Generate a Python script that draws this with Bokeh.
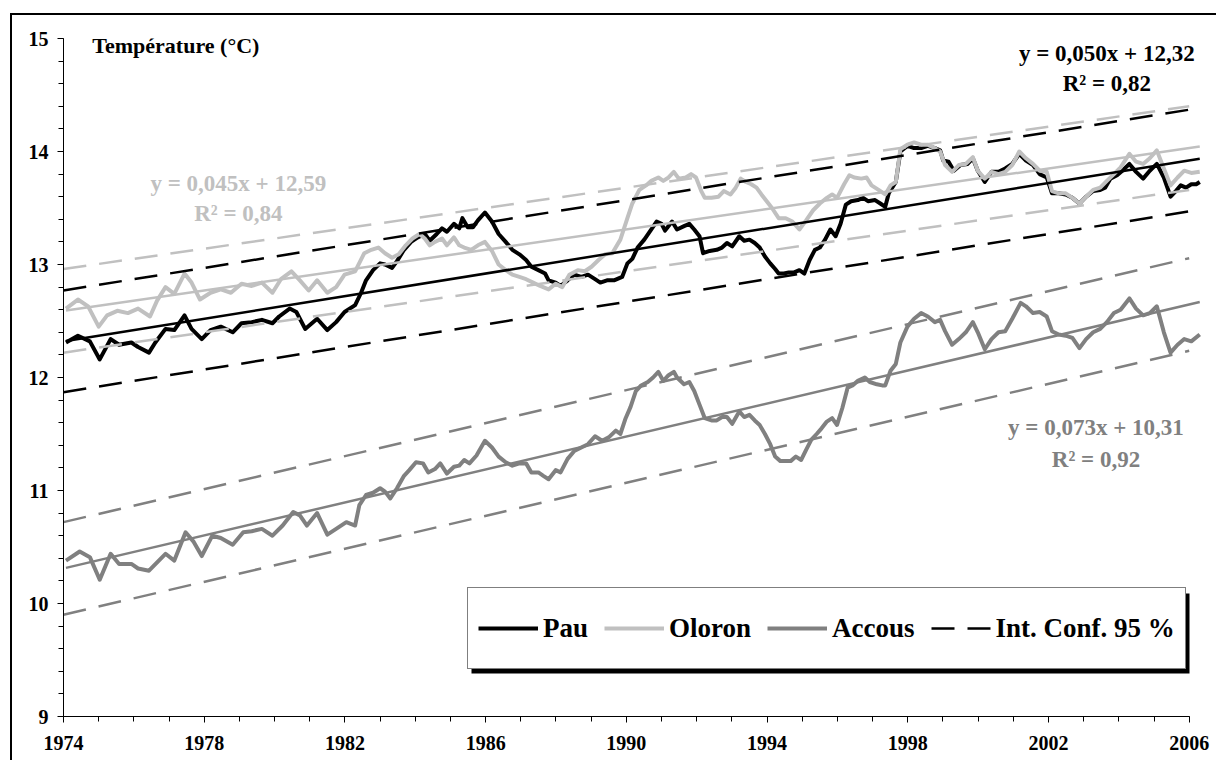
from bokeh.plotting import figure
from bokeh.models import (FixedTicker, Label, Legend, LegendItem, BoxAnnotation, Range1d)
from bokeh.embed import file_html
from bokeh.resources import INLINE

FONT = "Liberation Serif"
BLACK = "#000000"
LIGHT = "#C0C0C0"
GRAY = "#808080"

# ---------------- data ----------------
x_tick_years = [1974, 1978, 1982, 1986, 1990, 1994, 1998, 2002, 2006]
x_minor_years = list(range(1974, 2007))
y_tick_values = [9, 10, 11, 12, 13, 14, 15]

pau_year = [
    1974.07, 1974.41, 1974.75, 1975.03, 1975.34, 1975.58, 1975.93, 1976.12, 1976.43, 1976.61,
    1976.90, 1977.15, 1977.44, 1977.64, 1977.93, 1978.18, 1978.47, 1978.81, 1979.06, 1979.35,
    1979.64, 1979.94, 1980.13, 1980.43, 1980.62, 1980.87, 1981.21, 1981.50, 1981.75, 1981.99, 1982.29,
    1982.46, 1982.60, 1982.80, 1983.00, 1983.14, 1983.34, 1983.48, 1983.68, 1983.88,
    1984.07, 1984.27, 1984.41, 1984.61, 1984.76, 1984.90,
    1985.10, 1985.25, 1985.34, 1985.49, 1985.64, 1985.78, 1985.98,
    1986.18, 1986.37, 1986.57, 1986.76, 1986.96,
    1987.15, 1987.30, 1987.50, 1987.69, 1987.79, 1987.99,
    1988.13, 1988.33, 1988.52, 1988.72, 1988.91,
    1989.11, 1989.26, 1989.45, 1989.65,
    1989.88, 1990.03, 1990.17, 1990.32, 1990.51, 1990.71, 1990.86,
    1991.00, 1991.10, 1991.30, 1991.44, 1991.64, 1991.79, 1991.93,
    1992.08, 1992.18, 1992.37, 1992.57, 1992.72, 1992.86,
    1993.01, 1993.21, 1993.35, 1993.50, 1993.65, 1993.79, 1993.94,
    1994.09, 1994.23, 1994.33, 1994.48, 1994.62, 1994.77, 1994.92,
    1995.06, 1995.21, 1995.36, 1995.50, 1995.65, 1995.80, 1995.95,
    1996.09, 1996.24, 1996.39, 1996.58, 1996.73, 1996.87,
    1997.07, 1997.22, 1997.36, 1997.46, 1997.66,
    1997.79, 1997.99, 1998.18, 1998.38, 1998.57, 1998.77, 1998.92,
    1999.01, 1999.16, 1999.31, 1999.50, 1999.70, 1999.85, 1999.99,
    2000.19, 2000.38, 2000.58, 2000.77, 2000.97,
    2001.17, 2001.36, 2001.56, 2001.75, 2001.95,
    2002.10, 2002.29, 2002.49, 2002.68, 2002.88,
    2003.07, 2003.27, 2003.47, 2003.61, 2003.76, 2003.95,
    2004.10, 2004.30, 2004.49, 2004.69, 2004.88,
    2005.08, 2005.28, 2005.47, 2005.62, 2005.76, 2005.91,
    2006.06, 2006.20, 2006.30,
]
pau_temp = [
    12.31, 12.37, 12.32, 12.16, 12.34, 12.29, 12.31, 12.27, 12.22, 12.31,
    12.43, 12.42, 12.55, 12.43, 12.34, 12.42, 12.45, 12.40, 12.48, 12.49,
    12.51, 12.48, 12.54, 12.61, 12.58, 12.43, 12.52, 12.42, 12.49, 12.58, 12.64,
    12.75, 12.86, 12.95, 13.01, 13.00, 12.97, 13.03, 13.13, 13.20,
    13.24, 13.27, 13.21, 13.27, 13.32, 13.29,
    13.36, 13.32, 13.41, 13.33, 13.33, 13.39, 13.46,
    13.38, 13.27, 13.20, 13.13, 13.09,
    13.04, 12.98, 12.95, 12.92, 12.86, 12.84,
    12.81, 12.86, 12.91, 12.89, 12.91,
    12.87, 12.84, 12.86, 12.86,
    12.89, 13.01, 13.05, 13.15, 13.22, 13.31, 13.38,
    13.36, 13.30, 13.38, 13.31, 13.34, 13.36, 13.31,
    13.25, 13.10, 13.12, 13.13, 13.15, 13.19,
    13.16, 13.25, 13.21, 13.22, 13.19, 13.15, 13.07,
    13.01, 12.96, 12.92, 12.92, 12.93, 12.93, 12.95,
    12.92, 13.04, 13.13, 13.15, 13.22, 13.31, 13.25,
    13.36, 13.53, 13.56, 13.57, 13.59, 13.56,
    13.57, 13.54, 13.51, 13.63, 13.73,
    14.00, 14.05, 14.03, 14.03, 14.05, 14.03, 14.01,
    13.92, 13.91, 13.83, 13.88, 13.89, 13.94, 13.83,
    13.73, 13.82, 13.82, 13.85, 13.89,
    13.98, 13.92, 13.88, 13.80, 13.77,
    13.63, 13.63, 13.62, 13.59, 13.54,
    13.60, 13.65, 13.66, 13.68, 13.76, 13.79,
    13.83, 13.89, 13.82, 13.76, 13.83,
    13.89, 13.77, 13.60, 13.65, 13.70, 13.68,
    13.71, 13.71, 13.73,
]

oloron_year = [
    1974.07, 1974.41, 1974.70, 1975.00, 1975.24, 1975.53, 1975.83, 1976.12, 1976.46, 1976.66,
    1976.90, 1977.15, 1977.44, 1977.64, 1977.88, 1978.18, 1978.47, 1978.76, 1979.06, 1979.35,
    1979.64, 1979.94, 1980.18, 1980.48, 1980.72, 1980.97, 1981.21, 1981.50, 1981.75, 1981.99, 1982.29,
    1982.55, 1982.75, 1982.95, 1983.14, 1983.34, 1983.53, 1983.73, 1983.92,
    1984.12, 1984.27, 1984.41, 1984.56, 1984.76, 1984.90,
    1985.10, 1985.25, 1985.39, 1985.59, 1985.78, 1985.98,
    1986.18, 1986.37, 1986.57, 1986.76, 1986.96,
    1987.15, 1987.35, 1987.55, 1987.79, 1987.99,
    1988.18, 1988.38, 1988.62, 1988.82,
    1989.01, 1989.21, 1989.40, 1989.60,
    1989.83, 1990.03, 1990.17, 1990.37, 1990.56, 1990.71, 1990.91,
    1991.05, 1991.20, 1991.35, 1991.49, 1991.69, 1991.84, 1991.98,
    1992.13, 1992.23, 1992.42, 1992.62, 1992.77, 1992.96,
    1993.11, 1993.25, 1993.40, 1993.55, 1993.70, 1993.84, 1993.99,
    1994.14, 1994.33, 1994.53, 1994.72, 1994.92,
    1995.11, 1995.31, 1995.50, 1995.70, 1995.85, 1995.99,
    1996.19, 1996.34, 1996.48, 1996.68, 1996.83, 1996.97,
    1997.17, 1997.36, 1997.51, 1997.66,
    1997.79, 1997.99, 1998.18, 1998.38, 1998.57, 1998.77, 1998.92,
    1999.06, 1999.26, 1999.45, 1999.65, 1999.85, 1999.99,
    2000.19, 2000.38, 2000.58, 2000.77, 2000.97,
    2001.17, 2001.36, 2001.56, 2001.75, 2001.95,
    2002.10, 2002.29, 2002.49, 2002.68, 2002.88,
    2003.07, 2003.27, 2003.47, 2003.66, 2003.86,
    2004.05, 2004.30, 2004.49, 2004.69, 2004.88,
    2005.08, 2005.28, 2005.47, 2005.67, 2005.86,
    2006.06, 2006.30,
]
oloron_temp = [
    12.61, 12.69, 12.63, 12.45, 12.55, 12.59, 12.57, 12.61, 12.54, 12.68,
    12.80, 12.74, 12.92, 12.84, 12.69, 12.75, 12.78, 12.75, 12.83, 12.81,
    12.84, 12.75, 12.87, 12.94, 12.86, 12.77, 12.86, 12.75, 12.80, 12.91, 12.94,
    13.10, 13.13, 13.15, 13.10, 13.06, 13.09, 13.17, 13.23,
    13.27, 13.23, 13.17, 13.20, 13.23, 13.17,
    13.24, 13.17, 13.15, 13.13, 13.17, 13.20,
    13.12, 13.00, 12.95, 12.91, 12.89,
    12.87, 12.84, 12.81, 12.78, 12.83,
    12.80, 12.91, 12.95, 12.94,
    12.98, 13.04, 13.09, 13.10,
    13.22, 13.41, 13.54, 13.66, 13.70, 13.74, 13.77,
    13.74, 13.77, 13.82, 13.76, 13.77, 13.80, 13.77,
    13.65, 13.59, 13.59, 13.60, 13.65, 13.62,
    13.68, 13.76, 13.73, 13.71, 13.68, 13.62, 13.56,
    13.50, 13.41, 13.41, 13.38, 13.31,
    13.39, 13.48, 13.54, 13.59, 13.62, 13.59,
    13.71, 13.79, 13.77, 13.76, 13.77, 13.70,
    13.66, 13.62, 13.70, 13.73,
    14.02, 14.06, 14.08, 14.06, 14.06, 14.03, 14.00,
    13.88, 13.82, 13.88, 13.89, 13.95, 13.83,
    13.76, 13.82, 13.80, 13.82, 13.88,
    14.00, 13.94, 13.89, 13.83, 13.82,
    13.65, 13.63, 13.63, 13.59, 13.54,
    13.60, 13.66, 13.68, 13.74, 13.80,
    13.86, 13.98, 13.91, 13.89, 13.94,
    14.01, 13.85, 13.70, 13.77, 13.83,
    13.81, 13.82,
]

accous_year = [
    1974.07, 1974.46, 1974.75, 1975.03, 1975.34, 1975.58, 1975.93, 1976.12, 1976.43, 1976.71,
    1976.90, 1977.15, 1977.47, 1977.69, 1977.93, 1978.23, 1978.47, 1978.81, 1979.11, 1979.35,
    1979.64, 1979.94, 1980.23, 1980.53, 1980.72, 1980.92, 1981.21, 1981.50, 1981.75, 1982.04, 1982.29,
    1982.41, 1982.60, 1982.80,
    1983.00, 1983.14, 1983.29, 1983.48, 1983.68, 1983.83,
    1984.02, 1984.22, 1984.37, 1984.56, 1984.71, 1984.90,
    1985.10, 1985.25, 1985.39, 1985.54, 1985.74, 1985.98,
    1986.18, 1986.37, 1986.57, 1986.76, 1986.96,
    1987.15, 1987.30, 1987.50, 1987.64, 1987.79, 1987.99,
    1988.13, 1988.33, 1988.52, 1988.72, 1988.91,
    1989.11, 1989.31, 1989.50, 1989.70,
    1989.83, 1989.98,
    1990.12, 1990.27, 1990.42, 1990.61, 1990.76, 1990.91,
    1991.05, 1991.20, 1991.35, 1991.44, 1991.64, 1991.79, 1991.93,
    1992.08, 1992.23, 1992.42, 1992.57, 1992.72, 1992.86,
    1993.01, 1993.21, 1993.35, 1993.50, 1993.65, 1993.79, 1993.94,
    1994.09, 1994.23, 1994.38, 1994.53, 1994.67, 1994.82, 1994.97,
    1995.11, 1995.26, 1995.41, 1995.55, 1995.70, 1995.85, 1995.99,
    1996.14, 1996.29, 1996.43, 1996.58, 1996.78, 1996.92,
    1997.12, 1997.27, 1997.36, 1997.51, 1997.66,
    1997.79, 1997.99, 1998.18, 1998.38, 1998.57, 1998.77, 1998.92,
    1999.06, 1999.26, 1999.45, 1999.65, 1999.85, 1999.99,
    2000.19, 2000.38, 2000.58, 2000.77, 2000.97,
    2001.21, 2001.36, 2001.56, 2001.75, 2001.95,
    2002.10, 2002.29, 2002.49, 2002.68, 2002.88,
    2003.07, 2003.27, 2003.47, 2003.66, 2003.86,
    2004.05, 2004.30, 2004.49, 2004.69, 2004.88,
    2005.08, 2005.28, 2005.47, 2005.67, 2005.86,
    2006.06, 2006.30,
]
accous_temp = [
    10.38, 10.46, 10.41, 10.21, 10.44, 10.35, 10.35, 10.31, 10.29, 10.38,
    10.44, 10.38, 10.63, 10.55, 10.42, 10.60, 10.58, 10.52, 10.63, 10.64,
    10.66, 10.60, 10.69, 10.81, 10.78, 10.69, 10.80, 10.61, 10.66, 10.72, 10.69,
    10.87, 10.96, 10.98,
    11.02, 10.99, 10.93, 11.02, 11.13, 11.18,
    11.25, 11.24, 11.16, 11.19, 11.24, 11.15,
    11.21, 11.22, 11.27, 11.24, 11.31, 11.44,
    11.38, 11.30, 11.25, 11.22, 11.24,
    11.24, 11.16, 11.16, 11.13, 11.10, 11.18,
    11.16, 11.28, 11.35, 11.38, 11.41,
    11.48, 11.44, 11.47, 11.53,
    11.50, 11.64,
    11.74, 11.88, 11.93, 11.96, 12.00, 12.05,
    11.97, 12.02, 12.05, 12.00, 11.94, 11.96, 11.88,
    11.76, 11.64, 11.62, 11.62, 11.65, 11.65,
    11.59, 11.70, 11.65, 11.67, 11.62, 11.58, 11.50,
    11.41, 11.30, 11.26, 11.26, 11.26, 11.30, 11.27,
    11.36, 11.45, 11.50, 11.55, 11.61, 11.64, 11.58,
    11.73, 11.91, 11.93, 11.97, 12.00, 11.96,
    11.94, 11.93, 11.93, 12.06, 12.12,
    12.31, 12.45, 12.52, 12.57, 12.54, 12.49, 12.51,
    12.41, 12.29, 12.34, 12.40, 12.49, 12.40,
    12.25, 12.34, 12.40, 12.41, 12.52,
    12.66, 12.63, 12.57, 12.58, 12.54,
    12.41, 12.38, 12.37, 12.35, 12.26,
    12.34, 12.40, 12.43, 12.49, 12.57,
    12.60, 12.70, 12.61, 12.55, 12.57,
    12.63, 12.40, 12.22, 12.29, 12.34,
    12.32, 12.38,
]

# linear trends (slope per year since 1974, intercept) and 95 % band half widths
pau_fit = (0.050, 12.32)
oloron_fit = (0.045, 12.59)
accous_fit = (0.073, 10.31)
pau_ci = 0.45
oloron_ci = 0.37
accous_ci = 0.41
ci_years = [1974, 2006]
fit_origin = 1974

pau_eq = ["y = 0,050x + 12,32", "R² = 0,82"]
oloron_eq = ["y = 0,045x + 12,59", "R² = 0,84"]
accous_eq = ["y = 0,073x + 10,31", "R² = 0,92"]
series_names = ["Pau", "Oloron", "Accous", "Int. Conf. 95 %"]


def pairs(xs, ys):
    n = min(len(xs), len(ys))
    return list(xs[:n]), list(ys[:n])


# ---------------- figure ----------------
p = figure(
    width=1216, height=760,
    x_range=Range1d(1974, 2006.35), y_range=Range1d(9, 15),
    output_backend="svg", toolbar_location=None,
    min_border_left=63, min_border_right=15, min_border_top=38, min_border_bottom=44,
)
p.border_fill_color = None
p.background_fill_color = "white"
p.outline_line_color = None
p.xgrid.visible = False
p.ygrid.visible = False
# outer chart-area border (top and left edges only, as in the picture)
p.styles = {
    "box-shadow": "inset 0 13px 0 0 white, inset 10px 0 0 0 white, "
                  "inset 0 15px 0 0 black, inset 12px 0 0 0 black"
}

# axes
p.xaxis.ticker = FixedTicker(ticks=x_tick_years, minor_ticks=x_minor_years)
p.xaxis.bounds = (1974, 2006)
p.yaxis.ticker = FixedTicker(ticks=y_tick_values,
                             minor_ticks=[y_tick_values[0] + 0.2 * i for i in range(31)])
for ax in (p.xaxis[0], p.yaxis[0]):
    ax.axis_line_color = BLACK
    ax.axis_line_width = 1
    ax.major_tick_line_color = BLACK
    ax.minor_tick_line_color = BLACK
    ax.major_tick_in = 0
    ax.major_tick_out = 6
    ax.minor_tick_in = 0
    ax.minor_tick_out = 5
    ax.major_label_text_font = FONT
    ax.major_label_text_font_style = "bold"
    ax.major_label_text_font_size = "20px"
    ax.major_label_text_color = BLACK
p.xaxis.major_label_standoff = 13
p.yaxis.major_label_standoff = 9

# series
px, py = pairs(pau_year, pau_temp)
ox, oy = pairs(oloron_year, oloron_temp)
ax_, ay = pairs(accous_year, accous_temp)

r_acc = p.line(ax_, ay, line_color=GRAY, line_width=4, line_join="round")
r_pau = p.line(px, py, line_color=BLACK, line_width=4, line_join="round")
r_olo = p.line(ox, oy, line_color=LIGHT, line_width=4, line_join="round")


def trend(fit, xs):
    a, b = fit
    return [b + a * (x - fit_origin) for x in xs]


ci_renderers = {}
for name, fit, ci, xs, col in (
    ("acc", accous_fit, accous_ci, ax_, GRAY),
    ("olo", oloron_fit, oloron_ci, ox, LIGHT),
    ("pau", pau_fit, pau_ci, px, BLACK),
):
    tx = [xs[0], xs[-1]]
    p.line(tx, trend(fit, tx), line_color=col, line_width=2.5)
    mid = trend(fit, ci_years)
    hi = p.line(ci_years, [m + ci for m in mid], line_color=col, line_width=2.5, line_dash="23 13")
    p.line(ci_years, [m - ci for m in mid], line_color=col, line_width=2.5, line_dash="23 13")
    ci_renderers[name] = hi

# texts


def add_label(x, y, text, color, size="23px", align="center"):
    p.add_layout(Label(x=x, y=y, text=text, text_font=FONT, text_font_style="bold",
                       text_font_size=size, text_color=color, text_align=align,
                       text_baseline="middle"))


add_label(1974.82, 14.94, "Température (°C)", BLACK, size="22px", align="left")
add_label(2003.66, 14.87, pau_eq[0], BLACK)
add_label(2003.66, 14.60, pau_eq[1], BLACK)
add_label(1978.97, 13.72, oloron_eq[0], LIGHT)
add_label(1978.97, 13.45, oloron_eq[1], LIGHT)
add_label(2003.35, 11.56, accous_eq[0], GRAY)
add_label(2003.35, 11.27, accous_eq[1], GRAY)

# legend with drop shadow
LEG_X, LEG_Y, LEG_W, LEG_H, SH = 404, 47, 718, 80, 4
shadow = BoxAnnotation(left=LEG_X + SH, right=LEG_X + LEG_W + SH,
                       bottom=LEG_Y - SH, top=LEG_Y + LEG_H - SH,
                       left_units="screen", right_units="screen",
                       bottom_units="screen", top_units="screen",
                       fill_color=BLACK, fill_alpha=1.0, line_color=None)
p.add_layout(shadow)

legend = Legend(
    items=[
        LegendItem(label=series_names[0], renderers=[r_pau]),
        LegendItem(label=series_names[1], renderers=[r_olo]),
        LegendItem(label=series_names[2], renderers=[r_acc]),
        LegendItem(label=series_names[3], renderers=[ci_renderers["pau"]]),
    ],
    orientation="horizontal",
    location=(LEG_X, LEG_Y),
)
legend.label_text_font = FONT
legend.label_text_font_style = "bold"
legend.label_text_font_size = "27px"
legend.label_text_color = BLACK
legend.glyph_width = 60
legend.glyph_height = 20
legend.label_standoff = 5
legend.spacing = 16
legend.padding = 10
legend.margin = 0
legend.label_height = 60
legend.border_line_color = BLACK
legend.border_line_width = 1
legend.background_fill_color = "white"
legend.background_fill_alpha = 1.0
p.add_layout(legend)

open("out.html", "w").write(file_html(p, INLINE))
